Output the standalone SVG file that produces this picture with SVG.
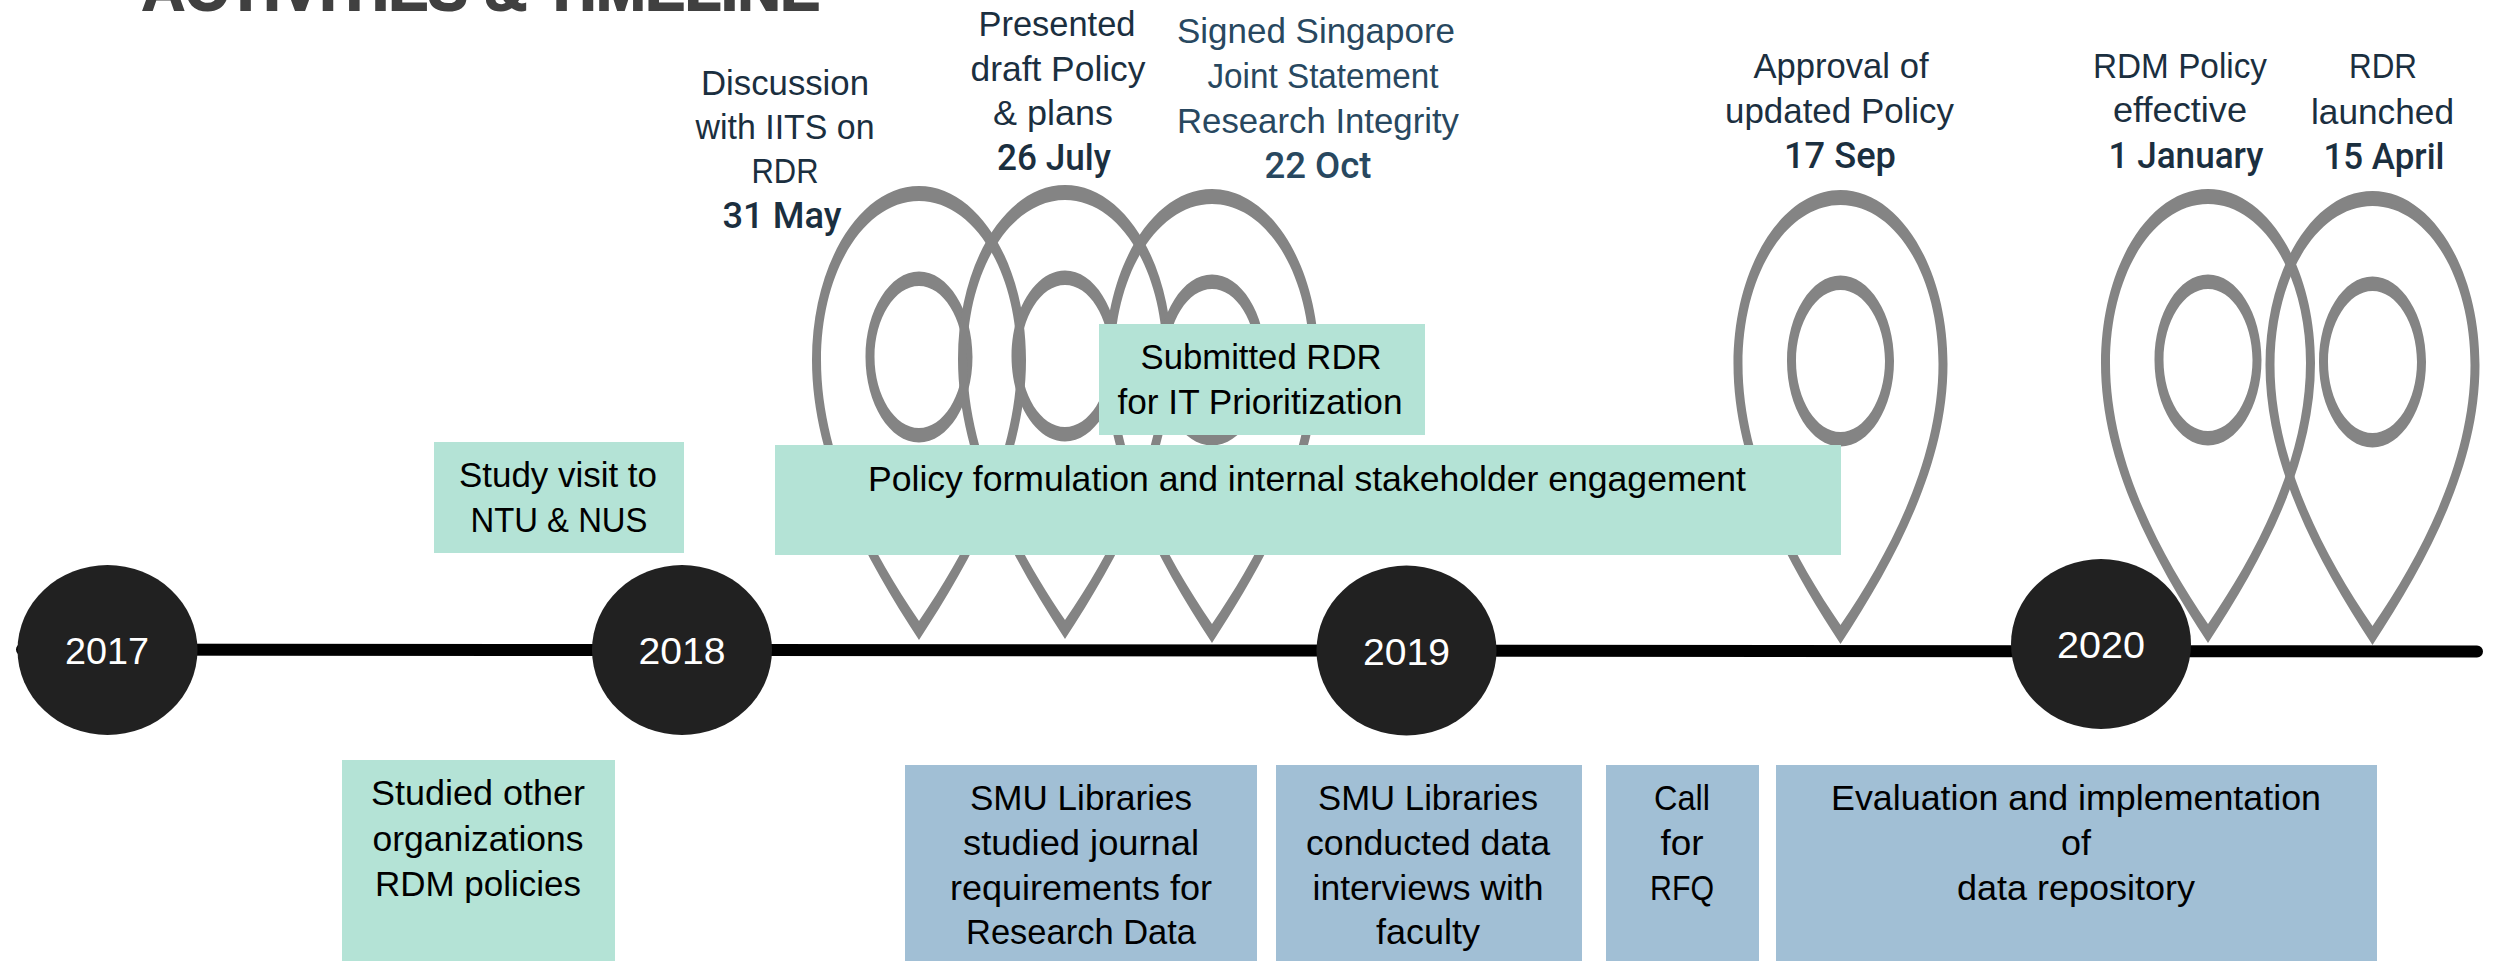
<svg xmlns="http://www.w3.org/2000/svg" width="2503" height="961" viewBox="0 0 2503 961">
<style>
text{font-family:"Liberation Sans",Arial,sans-serif;font-size:35px;text-anchor:middle;fill:#000}
.l{fill:#1b2f3f}.s{fill:#284860}.d{font-family:Roboto,"Liberation Sans",sans-serif;font-weight:500;font-size:36px}
.g{fill:#b4e3d6}.b{fill:#a1bfd5}.c{fill:#212121}
.y{fill:#fff;font-size:37px}
.t{font-size:60px;font-weight:700;fill:#404040;stroke:#404040;stroke-width:2px;text-anchor:start}
.pin{fill:#848484;fill-rule:evenodd}
</style>
<defs>
<path id="pin" class="pin" d="M0,0C-55,-84 -107,-180 -107,-280C-107,-376 -59,-454 0,-454C59,-454 107,-376 107,-280C107,-180 55,-84 0,0ZM0,-19C-50,-92 -98,-185 -98,-280C-98,-370 -54,-439 0,-439C54,-439 98,-370 98,-280C98,-185 50,-92 0,-19ZM0,-368.500C-29,-368.500 -53.500,-330 -53.500,-283C-53.500,-236 -29,-197.500 0,-197.500C29,-197.500 53.500,-236 53.500,-283C53.500,-330 29,-368.500 0,-368.500ZM0,-354C-24,-354 -44.500,-322 -44.500,-283C-44.500,-244 -24,-212 0,-212C24,-212 44.500,-244 44.500,-283C44.500,-322 24,-354 0,-354Z"/>
</defs>
<g id="title"><text class="t" x="142" y="10" textLength="678" lengthAdjust="spacingAndGlyphs">ACTIVITIES &amp; TIMELINE</text></g>
<g id="pin-31-may"><use href="#pin" x="919" y="640"/>
<text class="l" x="785" y="95" textLength="168" lengthAdjust="spacingAndGlyphs">Discussion</text><text class="l" x="785" y="139" textLength="179" lengthAdjust="spacingAndGlyphs">with IITS on</text><text class="l" x="785" y="183" textLength="67" lengthAdjust="spacingAndGlyphs">RDR</text><text class="l d" x="782" y="228" textLength="119" lengthAdjust="spacingAndGlyphs">31 May</text></g>
<g id="pin-26-july"><use href="#pin" x="1065" y="639"/>
<text class="l" x="1057" y="36" textLength="157" lengthAdjust="spacingAndGlyphs">Presented</text><text class="l" x="1058" y="81" textLength="175" lengthAdjust="spacingAndGlyphs">draft Policy</text><text class="l" x="1053" y="125" textLength="120" lengthAdjust="spacingAndGlyphs">&amp; plans</text><text class="l d" x="1054" y="170" textLength="114" lengthAdjust="spacingAndGlyphs">26 July</text></g>
<g id="pin-22-oct"><use href="#pin" x="1212" y="643"/>
<text class="s" x="1316" y="43" textLength="278" lengthAdjust="spacingAndGlyphs">Signed Singapore</text><text class="s" x="1323" y="88" textLength="231" lengthAdjust="spacingAndGlyphs">Joint Statement</text><text class="s" x="1318" y="133" textLength="282" lengthAdjust="spacingAndGlyphs">Research Integrity</text><text class="s d" x="1318" y="178" textLength="107" lengthAdjust="spacingAndGlyphs">22 Oct</text></g>
<g id="pin-17-sep"><use href="#pin" x="1840.500" y="644"/>
<text class="l" x="1841" y="78" textLength="175" lengthAdjust="spacingAndGlyphs">Approval of</text><text class="l" x="1839.500" y="123" textLength="229" lengthAdjust="spacingAndGlyphs">updated Policy</text><text class="l d" x="1840" y="168" textLength="112" lengthAdjust="spacingAndGlyphs">17 Sep</text></g>
<g id="pin-1-january"><use href="#pin" x="2208" y="643"/>
<text class="l" x="2180" y="78" textLength="174" lengthAdjust="spacingAndGlyphs">RDM Policy</text><text class="l" x="2180" y="122" textLength="134" lengthAdjust="spacingAndGlyphs">effective</text><text class="l d" x="2186" y="168" textLength="155" lengthAdjust="spacingAndGlyphs">1 January</text></g>
<g id="pin-15-april"><use href="#pin" x="2372.500" y="645"/>
<text class="l" x="2383" y="78" textLength="68" lengthAdjust="spacingAndGlyphs">RDR</text><text class="l" x="2382.500" y="124" textLength="143" lengthAdjust="spacingAndGlyphs">launched</text><text class="l d" x="2384" y="169" textLength="121" lengthAdjust="spacingAndGlyphs">15 April</text></g>
<g id="connectors"><line x1="22" y1="649.500" x2="2477" y2="651.500" stroke="#000" stroke-width="12" stroke-linecap="round"/></g>
<g id="study-visit"><rect class="g" x="434" y="442" width="250" height="111"/><text x="558" y="487" textLength="198" lengthAdjust="spacingAndGlyphs">Study visit to</text><text x="559" y="532" textLength="177" lengthAdjust="spacingAndGlyphs">NTU &amp; NUS</text></g>
<g id="policy-formulation"><rect class="g" x="775" y="445" width="1066" height="110"/><text x="1307" y="491" textLength="878" lengthAdjust="spacingAndGlyphs">Policy formulation and internal stakeholder engagement</text></g>
<g id="submitted-rdr"><rect class="g" x="1099" y="324" width="326" height="111"/><text x="1261" y="369" textLength="241" lengthAdjust="spacingAndGlyphs">Submitted RDR</text><text x="1260" y="414" textLength="285" lengthAdjust="spacingAndGlyphs">for IT Prioritization</text></g>
<g id="studied-other"><rect class="g" x="342" y="760" width="273" height="201"/><text x="478" y="805" textLength="214" lengthAdjust="spacingAndGlyphs">Studied other</text><text x="478" y="851" textLength="211" lengthAdjust="spacingAndGlyphs">organizations</text><text x="478" y="896" textLength="206" lengthAdjust="spacingAndGlyphs">RDM policies</text></g>
<g id="journal-requirements"><rect class="b" x="905" y="765" width="352" height="196"/><text x="1081" y="810" textLength="222" lengthAdjust="spacingAndGlyphs">SMU Libraries</text><text x="1081" y="855" textLength="236" lengthAdjust="spacingAndGlyphs">studied journal</text><text x="1081" y="900" textLength="262" lengthAdjust="spacingAndGlyphs">requirements for</text><text x="1081" y="944" textLength="230" lengthAdjust="spacingAndGlyphs">Research Data</text></g>
<g id="data-interviews"><rect class="b" x="1276" y="765" width="306" height="196"/><text x="1428" y="810" textLength="220" lengthAdjust="spacingAndGlyphs">SMU Libraries</text><text x="1428" y="855" textLength="244" lengthAdjust="spacingAndGlyphs">conducted data</text><text x="1428" y="900" textLength="231" lengthAdjust="spacingAndGlyphs">interviews with</text><text x="1428" y="944" textLength="104" lengthAdjust="spacingAndGlyphs">faculty</text></g>
<g id="call-rfq"><rect class="b" x="1606" y="765" width="153" height="196"/><text x="1682" y="810" textLength="56" lengthAdjust="spacingAndGlyphs">Call</text><text x="1682" y="855" textLength="43" lengthAdjust="spacingAndGlyphs">for</text><text x="1682" y="900" textLength="64" lengthAdjust="spacingAndGlyphs">RFQ</text></g>
<g id="evaluation"><rect class="b" x="1776" y="765" width="601" height="196"/><text x="2076" y="810" textLength="490" lengthAdjust="spacingAndGlyphs">Evaluation and implementation</text><text x="2076" y="855" textLength="30" lengthAdjust="spacingAndGlyphs">of</text><text x="2076" y="900" textLength="238" lengthAdjust="spacingAndGlyphs">data repository</text></g>
<g id="year-2017"><ellipse class="c" cx="107.500" cy="650" rx="90" ry="85"/><text class="y" x="107" y="664" textLength="84" lengthAdjust="spacingAndGlyphs">2017</text></g>
<g id="year-2018"><ellipse class="c" cx="682" cy="650" rx="90" ry="85"/><text class="y" x="682" y="664" textLength="87" lengthAdjust="spacingAndGlyphs">2018</text></g>
<g id="year-2019"><ellipse class="c" cx="1406.500" cy="650.500" rx="90" ry="85"/><text class="y" x="1406.500" y="665" textLength="87" lengthAdjust="spacingAndGlyphs">2019</text></g>
<g id="year-2020"><ellipse class="c" cx="2101" cy="644" rx="90" ry="85"/><text class="y" x="2101" y="658" textLength="88" lengthAdjust="spacingAndGlyphs">2020</text></g>
</svg>
